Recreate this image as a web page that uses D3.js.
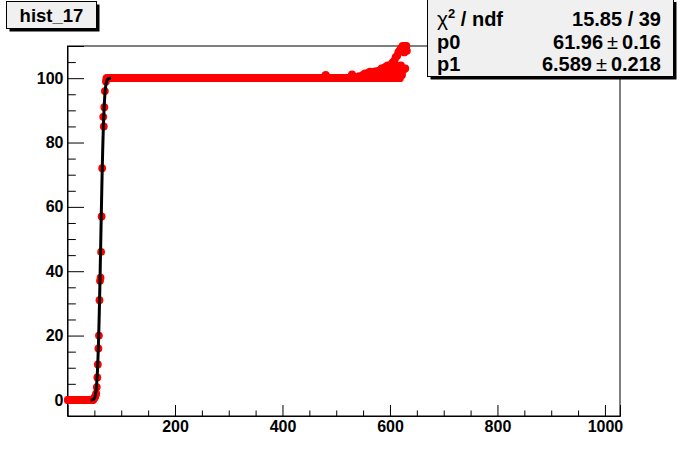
<!DOCTYPE html>
<html lang="en">
    <head>
        <meta charset="utf-8"/>
        <script src="https://d3js.org/d3.v7.min.js"></script>
        <style>
            body { margin: 0; background: #ffffff; }
            text { font-family: "Liberation Sans", Arial, Helvetica, sans-serif; font-weight: bold; }
        </style>
    </head>
    <body>
        <div id="chart"></div>
    </body>
    <script>
        // bins are 1 wide, marker drawn at bin centre (bin + 0.5)
        var flatRuns = [
            { from: 0, to: 47, value: 0 },
            { from: 72, to: 475, value: 100 }
        ];
        var riseBins   = [48, 49, 50, 51, 52, 53, 54, 55, 56, 57, 58, 59, 60, 61, 62, 63, 64, 66, 67, 68, 69, 71];
        var riseValues = [0.3, 0.5, 0.8, 1, 1.5, 2, 4, 7, 11, 16, 20, 31, 37, 38, 46, 57, 72, 88, 85, 91, 96, 99];

        var tailStart = 476;
        var tailValues = [
            100, 100, 100.4, 100.8, 101, 100.6, 100.2, 100, 100, 100,
            100, 100, 100, 100, 100, 100, 100, 100, 100, 100,
            100, 100, 100, 100, 100, 100, 100, 100, 100, 100,
            100, 100, 100, 100, 100, 100, 100, 100, 100, 100,
            100, 100, 100, 100, 100, 100, 100, 100, 100, 100,
            100, 100.3, 100.8, 101.2, 100.5, 100, 100, 100, 100, 100,
            100, 100, 100, 100.4, 100, 100, 100.6, 100, 100, 100,
            100, 100.5, 100, 101, 100, 100.2, 100, 101.5, 100, 100,
            100.8, 100, 101.6, 100, 101.2, 100, 102, 100, 101.5, 100.5,
            100, 101.8, 100, 102, 101, 100, 101.5, 100, 102.2, 100,
            100.5, 102, 100, 101, 100, 102.5, 100, 101.8, 103, 100,
            102.5, 100, 103.2, 101, 100, 103.5, 102, 100, 101, 104,
            100, 103, 101.5, 100, 104, 102, 100, 104.5, 101, 105,
            100, 103, 105.5, 101, 106.5, 104, 100, 107, 102, 108,
            103, 108.5, 100, 109, 104, 109.5, 101, 110, 102.5, 109.5,
            108, 110, 103, 109.5, 110, 108.5
        ];

        // fit result shown in the stats box
        var fitP0 = 61.96, fitP1 = 6.589;
        var fitRange = [43, 81];

        var xMajor = [200, 400, 600, 800, 1000];
        var xMinor = [50, 100, 150, 250, 300, 350, 450, 500, 550, 650, 700, 750, 850, 900, 950];
        var yMajor = [0, 20, 40, 60, 80, 100];
        var yMinor = [5, 10, 15, 25, 30, 35, 45, 50, 55, 65, 70, 75, 85, 90, 95, 105];

        var W = 689, H = 463;
        var frame = { left: 67.5, top: 46, right: 620, bottom: 416 };

        var points = [];
        flatRuns.forEach(function (r) {
            for (var b = r.from; b <= r.to; b++) points.push([b + 0.5, r.value]);
        });
        riseBins.forEach(function (b, i) { points.push([b + 0.5, riseValues[i]]); });
        tailValues.forEach(function (v, i) { points.push([tailStart + i + 0.5, v]); });

        function erf(v) {
            var s = v < 0 ? -1 : 1;
            v = Math.abs(v);
            var t = 1 / (1 + 0.3275911 * v);
            var r = 1 - (((((1.061405429 * t - 1.453152027) * t) + 1.421413741) * t - 0.284496736) * t + 0.254829592) * t * Math.exp(-v * v);
            return s * r;
        }
        var fitPts = [];
        for (var k = 0; k <= 100; k++) {
            var fx = fitRange[0] + (fitRange[1] - fitRange[0]) * k / 100;
            fitPts.push([fx, 50 * (1 + erf((fx - fitP0) / fitP1))]);
        }

        var svg = d3.select("#chart")
            .append("svg")
                .attr("width", W)
                .attr("height", H);

        svg.append("rect").attr("width", W).attr("height", H).attr("fill", "#ffffff");

        var x = d3.scaleLinear().domain([0, 1028]).range([frame.left, frame.right]);
        var y = d3.scaleLinear().domain([-5, 110]).range([frame.bottom, frame.top]);

        // frame
        svg.append("rect")
            .attr("x", frame.left).attr("y", frame.top)
            .attr("width", frame.right - frame.left).attr("height", frame.bottom - frame.top)
            .attr("fill", "none").attr("stroke", "#000").attr("stroke-width", 1);

        // x axis (ticks point inward)
        var gx = svg.append("g")
            .attr("transform", "translate(0," + frame.bottom + ")")
            .call(d3.axisBottom(x).tickValues(xMajor).tickSize(-11).tickPadding(5).tickFormat(d3.format("d")));
        svg.append("g")
            .attr("transform", "translate(0," + frame.bottom + ")")
            .call(d3.axisBottom(x).tickValues(xMinor).tickSize(-5.5).tickFormat(""))
            .select(".domain").remove();

        // y axis
        var gy = svg.append("g")
            .attr("transform", "translate(" + frame.left + ",0)")
            .call(d3.axisLeft(y).tickValues(yMajor).tickSize(-16.5).tickPadding(4).tickFormat(d3.format("d")));
        svg.append("g")
            .attr("transform", "translate(" + frame.left + ",0)")
            .call(d3.axisLeft(y).tickValues(yMinor).tickSize(-8.3).tickFormat(""))
            .select(".domain").remove();

        svg.selectAll(".tick line").attr("stroke", "#000");
        svg.selectAll(".domain").attr("stroke", "#000");
        gx.selectAll("text").attr("font-size", 16).attr("fill", "#000");
        gy.selectAll("text").attr("font-size", 16).attr("fill", "#000");

        // markers
        svg.append("g")
            .selectAll("circle")
            .data(points)
            .enter()
            .append("circle")
                .attr("cx", function (d) { return x(d[0]); })
                .attr("cy", function (d) { return y(d[1]); })
                .attr("r", 3.9)
                .attr("fill", "#ff0000");

        // fit curve
        svg.append("path")
            .datum(fitPts)
            .attr("fill", "none")
            .attr("stroke", "#000")
            .attr("stroke-width", 3)
            .attr("d", d3.line().x(function (d) { return x(d[0]); }).y(function (d) { return y(d[1]); }));

        // title box
        function pave(x0, y0, x1, y1) {
            svg.append("rect").attr("x", x0 + 3).attr("y", y0 + 3)
                .attr("width", x1 - x0).attr("height", y1 - y0).attr("fill", "#000");
            svg.append("rect").attr("x", x0).attr("y", y0)
                .attr("width", x1 - x0).attr("height", y1 - y0)
                .attr("fill", "#f0f0f0").attr("stroke", "#000").attr("stroke-width", 1);
        }
        pave(6.5, 1.5, 96.5, 28.5);
        svg.append("text")
            .attr("x", 51.5).attr("y", 22)
            .attr("text-anchor", "middle")
            .attr("font-size", 18.5)
            .text("hist_17");

        // stats box
        pave(427.5, -1, 673.5, 76.5);
        var rows = [26, 48.5, 71];
        var t1 = svg.append("text").attr("x", 437).attr("y", rows[0]).attr("font-size", 20);
        t1.append("tspan").attr("font-weight", "normal").attr("font-size", 21).text("χ");
        t1.append("tspan").attr("font-size", 13).attr("dy", -8).text("2");
        t1.append("tspan").attr("dy", 8).text(" / ndf");
        svg.append("text").attr("x", 437).attr("y", rows[1]).attr("font-size", 20).text("p0");
        svg.append("text").attr("x", 437).attr("y", rows[2]).attr("font-size", 20).text("p1");

        svg.append("text").attr("x", 661).attr("y", rows[0]).attr("font-size", 20)
            .attr("text-anchor", "end").text("15.85 / 39");

        function pm(row, a, b) {
            var t = svg.append("text").attr("x", 661).attr("y", row).attr("font-size", 20)
                .attr("text-anchor", "end");
            t.append("tspan").text(a);
            t.append("tspan").attr("font-weight", "normal").attr("dx", 4).text("±");
            t.append("tspan").attr("dx", 4).text(b);
        }
        pm(rows[1], "61.96", "0.16");
        pm(rows[2], "6.589", "0.218");
    </script>
</html>
